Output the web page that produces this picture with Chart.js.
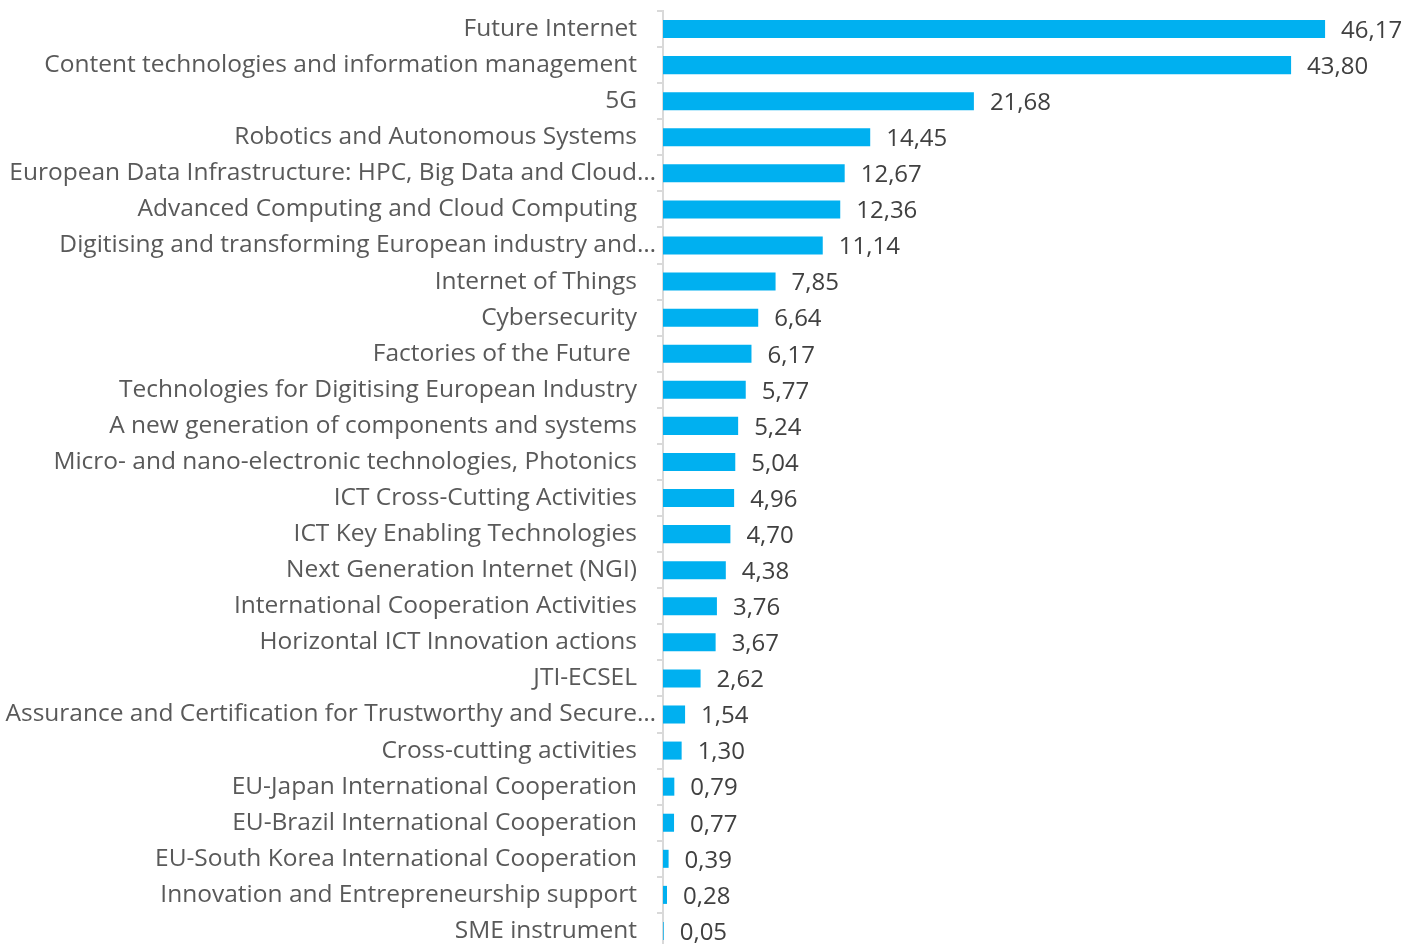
<!DOCTYPE html>
<html>
<head>
<meta charset="utf-8">
<script src="https://cdn.jsdelivr.net/npm/chart.js@4/dist/chart.umd.min.js"></script>
<style>
    html, body { margin: 0; padding: 0; background: #fff; overflow: hidden; }
    #wrap { width: 1406px; height: 950px; }
</style>
</head>
<body>
<div id="wrap"><canvas id="chart" width="1406" height="950"></canvas></div>
<script>
// Data
const categories = [
    'Future Internet',
    'Content technologies and information management',
    '5G',
    'Robotics and Autonomous Systems',
    'European Data Infrastructure: HPC, Big Data and Cloud…',
    'Advanced Computing and Cloud Computing',
    'Digitising and transforming European industry and…',
    'Internet of Things',
    'Cybersecurity',
    'Factories of the Future ',
    'Technologies for Digitising European Industry',
    'A new generation of components and systems',
    'Micro- and nano-electronic technologies, Photonics',
    'ICT Cross-Cutting Activities',
    'ICT Key Enabling Technologies',
    'Next Generation Internet (NGI)',
    'International Cooperation Activities',
    'Horizontal ICT Innovation actions',
    'JTI-ECSEL',
    'Assurance and Certification for Trustworthy and Secure…',
    'Cross-cutting activities',
    'EU-Japan International Cooperation',
    'EU-Brazil International Cooperation',
    'EU-South Korea International Cooperation',
    'Innovation and Entrepreneurship support',
    'SME instrument'
];
const values = [
    46.17, 43.80, 21.68, 14.45, 12.67, 12.36, 11.14, 7.85, 6.64, 6.17,
    5.77, 5.24, 5.04, 4.96, 4.70, 4.38, 3.76, 3.67, 2.62, 1.54,
    1.30, 0.79, 0.77, 0.39, 0.28, 0.05
];

const FONT = "'Open Sans', 'DejaVu Sans', sans-serif";

// Format value with comma decimal
const formatValue = (v) => v.toFixed(2).replace('.', ',');

// Category labels (truncated ones run a bit further right, like Excel)
const categoryLabels = {
    id: 'categoryLabels',
    afterDraw(chart) {
        const ctx = chart.ctx;
        const yScale = chart.scales.y;
        ctx.save();
        ctx.font = '24.5px ' + FONT;
        ctx.fillStyle = '#595959';
        ctx.textAlign = 'right';
        ctx.textBaseline = 'middle';
        categories.forEach((label, i) => {
            const y = yScale.getPixelForTick(i);
            const right = label.endsWith('…') ? 656 : 637;
            ctx.fillText(label, right, y);
        });
        ctx.restore();
    }
};

// Value labels to the right of each bar
const valueLabels = {
    id: 'valueLabels',
    afterDatasetsDraw(chart) {
        const ctx = chart.ctx;
        const meta = chart.getDatasetMeta(0);
        ctx.save();
        ctx.font = '24px ' + FONT;
        ctx.fillStyle = '#404040';
        ctx.textAlign = 'left';
        ctx.textBaseline = 'middle';
        meta.data.forEach((bar, i) => {
            ctx.fillText(formatValue(values[i]), bar.x + 16, bar.y + 2);
        });
        ctx.restore();
    }
};

const ctx = document.getElementById('chart').getContext('2d');
new Chart(ctx, {
    type: 'bar',
    data: {
        labels: categories,
        datasets: [{
            data: values,
            backgroundColor: '#00B0F0',
            borderWidth: 0,
            barPercentage: 0.5,
            categoryPercentage: 1.0
        }]
    },
    options: {
        indexAxis: 'y',
        responsive: false,
        animation: false,
        layout: { padding: { top: 11, bottom: 1, left: 0, right: 26 } },
        plugins: {
            legend: { display: false },
            tooltip: { enabled: false }
        },
        scales: {
            x: {
                display: false,
                min: 0,
                max: 50
            },
            y: {
                afterFit: (scale) => {
                    scale.width = 663;
                    scale.paddingTop = 0;
                    scale.paddingBottom = 0;
                },
                border: { display: true, color: '#D9D9D9', width: 2 },
                grid: {
                    offset: true,
                    drawOnChartArea: false,
                    drawTicks: true,
                    tickLength: 6,
                    color: '#D9D9D9',
                    lineWidth: 2
                },
                ticks: {
                    display: false,
                    autoSkip: false
                }
            }
        }
    },
    plugins: [valueLabels, categoryLabels]
});
</script>
</body>
</html>
